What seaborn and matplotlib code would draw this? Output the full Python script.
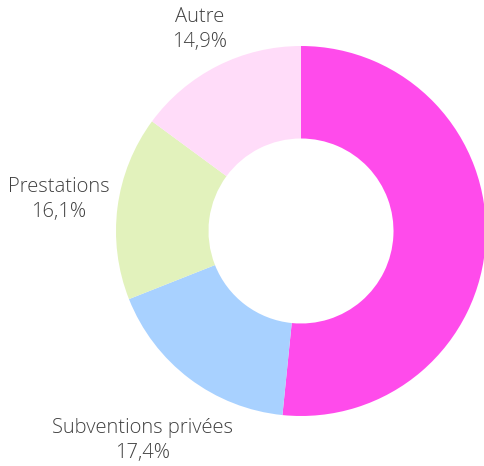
import numpy as np
import seaborn as sns
import matplotlib.pyplot as plt

# parts of the donut, clockwise from 12 o'clock
labels = ["", "Subventions privées", "Prestations", "Autre"]
values = [51.6, 17.4, 16.1, 14.9]
pcts = ["51,6%", "17,4%", "16,1%", "14,9%"]
colors = ["#ff4beb", "#a8d1ff", "#e2f2bc", "#ffdcf9"]
# distance of each label from centre (in radii)
label_dist = [1.25, 1.42, 1.32, 1.22]

sns.set_theme(style="white")
plt.rcParams['font.family'] = ['Open Sans', 'DejaVu Sans']

fig = plt.figure(figsize=(4.84, 4.66), dpi=100)
ax = fig.add_axes([0, 0, 1, 1])

wedges, _ = ax.pie(values, colors=sns.color_palette(colors), startangle=90,
                   counterclock=False, radius=1,
                   wedgeprops=dict(width=0.5, linewidth=0))

for w, lab, pct, d in zip(wedges, labels, pcts, label_dist):
    if not lab:
        continue
    ang = np.deg2rad((w.theta1 + w.theta2) / 2)
    ax.text(d * np.cos(ang), d * np.sin(ang), lab + "\n" + pct,
            ha="center", va="center", fontsize=14.5, color="#404040",
            linespacing=1.3, fontweight="light")

ax.set_xlim(-301 / 185, 183 / 185)
ax.set_ylim(-235 / 185, 231 / 185)
ax.set_aspect("auto")
ax.axis("off")

fig.savefig("out.png", dpi=100)
